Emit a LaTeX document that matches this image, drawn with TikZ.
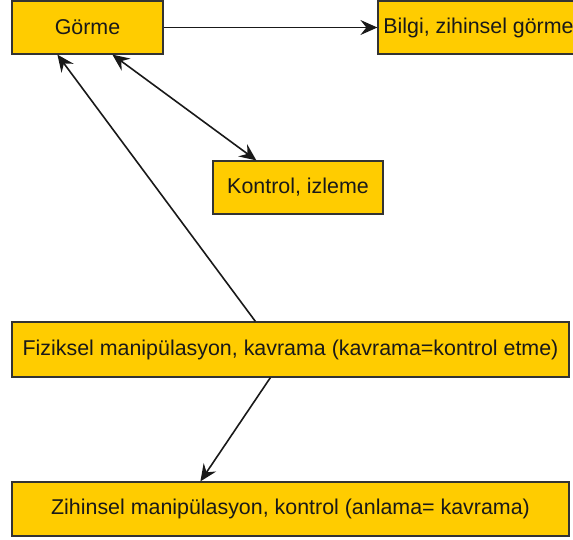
\documentclass[tikz,border=0pt]{standalone}
\usepackage{fontspec}
\setmainfont{Liberation Sans}
\usetikzlibrary{arrows.meta}
\definecolor{boxfill}{HTML}{FFCC00}
\definecolor{boxline}{HTML}{333333}
\begin{document}
\begin{tikzpicture}[x=1pt,y=-1pt,
  box/.style={draw=boxline, line width=1.2pt, fill=boxfill, inner sep=0pt,
    font=\fontsize{21.4}{25}\selectfont, text=black!90},
  arr/.style={draw=black!90, line width=1.6pt,
    -{Stealth[length=17pt,width=15pt,inset=6pt]}},
  darr/.style={draw=black!90, line width=1.6pt,
    {Stealth[length=17pt,width=15pt,inset=6pt]}-{Stealth[length=17pt,width=15pt,inset=6pt]}}]
\useasboundingbox (0,0) rectangle (573,539);
\clip (0,0) rectangle (573,539);
\node[box, minimum width=151pt, minimum height=53pt] (g) at (87.5,27.5) {Görme};
\node[box, minimum width=201pt, minimum height=53pt] (b) at (478.5,27.5) {Bilgi, zihinsel görme};
\node[box, minimum width=170pt, minimum height=53pt] (k) at (298,187.5) {Kontrol, izleme};
\node[box, minimum width=557pt, minimum height=55pt] (f) at (290.5,349.5) {Fiziksel manipülasyon, kavrama (kavrama=kontrol etme)};
\node[box, minimum width=557pt, minimum height=54pt] (z) at (290.5,509) {Zihinsel manipülasyon, kontrol (anlama= kavrama)};
\draw[arr] (g.east) -- (b.west);
\draw[arr] ([xshift=244pt]f.north west) -- ([xshift=46pt]g.south west);
\draw[darr] ([xshift=101pt]g.south west) -- ([xshift=44pt]k.north west);
\draw[arr] ([xshift=259pt]f.south west) -- ([xshift=189pt]z.north west);
\end{tikzpicture}
\end{document}
